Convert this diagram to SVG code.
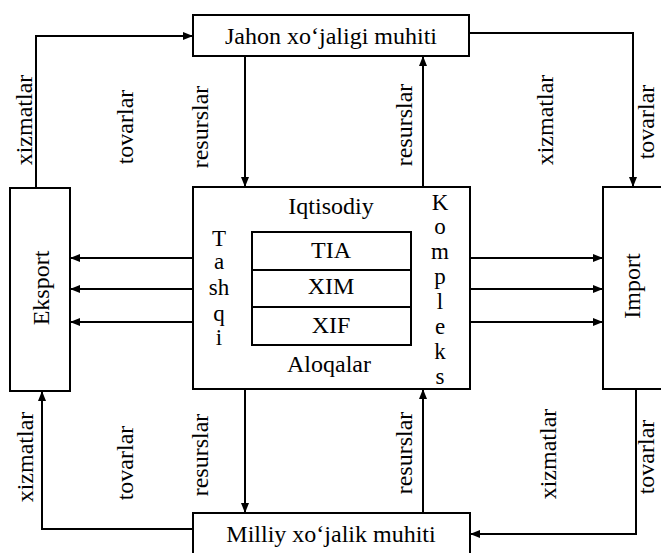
<svg xmlns="http://www.w3.org/2000/svg" width="661" height="553" viewBox="0 0 661 553">
<defs>
<marker id="ah" markerUnits="userSpaceOnUse" markerWidth="10" markerHeight="8" refX="10" refY="4" orient="auto"><path d="M0,0 L10,4 L0,8 z" fill="#000"/></marker>
</defs>
<style>
.box{fill:#fff;stroke:#000;stroke-width:2}
.ln{fill:none;stroke:#000;stroke-width:2;marker-end:url(#ah)}
.sep{fill:none;stroke:#000;stroke-width:2}
text{font-family:"Liberation Serif","Times New Roman",serif;font-size:24px;fill:#000;text-anchor:middle}
.st{font-size:23px}
</style>
<rect width="661" height="553" fill="#fff"/>
<g id="connectors">
<path class="ln" d="M36,188 V36 H193"/>
<path class="ln" d="M469,33 H633 V187"/>
<path class="ln" d="M245,56 V187"/>
<path class="ln" d="M423,187 V56"/>
<path class="ln" d="M193,258 H70"/>
<path class="ln" d="M193,289 H70"/>
<path class="ln" d="M193,322 H70"/>
<path class="ln" d="M470,258 H603"/>
<path class="ln" d="M470,289 H603"/>
<path class="ln" d="M470,322 H603"/>
<path class="ln" d="M245,389 V513"/>
<path class="ln" d="M423,513 V389"/>
<path class="ln" d="M193,529 H42 V391"/>
<path class="ln" d="M636,389 V534 H470"/>
</g>
<g id="labels">
<text transform="translate(32,120) rotate(-90)">xizmatlar</text>
<text transform="translate(133,127) rotate(-90)">tovarlar</text>
<text transform="translate(208,127) rotate(-90)">resurslar</text>
<text transform="translate(412,125) rotate(-90)">resurslar</text>
<text transform="translate(553,120) rotate(-90)">xizmatlar</text>
<text transform="translate(654,122) rotate(-90)">tovarlar</text>
<text transform="translate(33,457) rotate(-90)">xizmatlar</text>
<text transform="translate(133,463) rotate(-90)">tovarlar</text>
<text transform="translate(208,455) rotate(-90)">resurslar</text>
<text transform="translate(412,453) rotate(-90)">resurslar</text>
<text transform="translate(556,454) rotate(-90)">xizmatlar</text>
<text transform="translate(654,457) rotate(-90)">tovarlar</text>
</g>
<g id="jahon">
<rect class="box" x="193" y="15" width="276" height="41"/>
<text x="331" y="44">Jahon xo‘jaligi muhiti</text>
</g>
<g id="milliy">
<rect class="box" x="193" y="513" width="277" height="50"/>
<text x="331" y="542">Milliy xo‘jalik muhiti</text>
</g>
<g id="eksport">
<rect class="box" x="10" y="188" width="60" height="203"/>
<text transform="translate(49,288) rotate(-90)">Eksport</text>
</g>
<g id="import">
<rect class="box" x="603" y="187" width="70" height="202"/>
<text transform="translate(640,286) rotate(-90)">Import</text>
</g>
<g id="central">
<rect class="box" x="193" y="187" width="277" height="202"/>
<text x="331" y="214">Iqtisodiy</text>
<text x="329" y="372">Aloqalar</text>
<rect class="box" x="252" y="232" width="159" height="113"/>
<path class="sep" d="M252,270 H411 M252,307 H411"/>
<text x="331" y="258">TIA</text>
<text x="331" y="294">XIM</text>
<text x="331" y="333">XIF</text>
<text class="st" x="219" y="246">T</text>
<text class="st" x="219" y="269">a</text>
<text class="st" x="219" y="295">sh</text>
<text class="st" x="219" y="321">q</text>
<text class="st" x="219" y="345">i</text>
<text class="st" x="440" y="210">K</text>
<text class="st" x="440" y="234">o</text>
<text class="st" x="440" y="259">m</text>
<text class="st" x="440" y="284">p</text>
<text class="st" x="440" y="309">l</text>
<text class="st" x="440" y="334">e</text>
<text class="st" x="440" y="359">k</text>
<text class="st" x="440" y="384">s</text>
</g>
</svg>
